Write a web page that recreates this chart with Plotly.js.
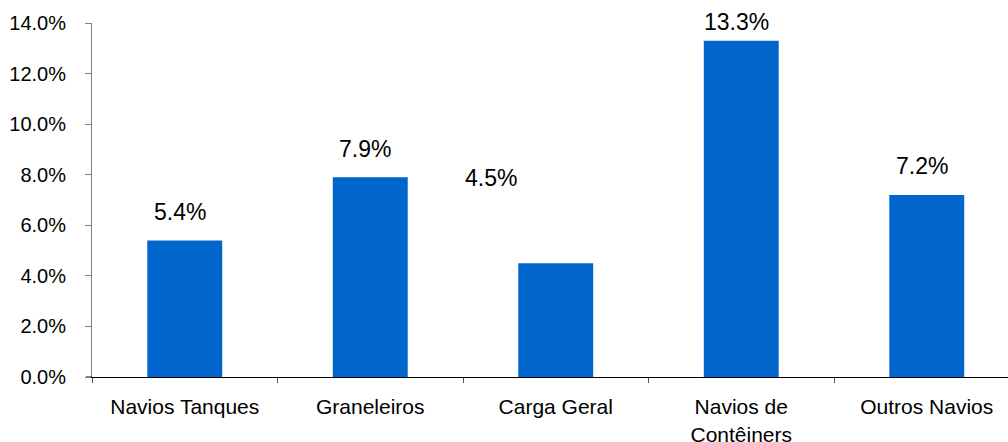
<!DOCTYPE html>
<html>
<head>
<meta charset="utf-8">
<script src="https://cdn.plot.ly/plotly-3.0.1.min.js"></script>
<style>
  html, body { margin: 0; padding: 0; background: #fff; }
  #chart { width: 1008px; height: 442px; }
</style>
</head>
<body>
<div id="chart"></div>
<script>
// Ship types and their growth rates (%)
const categories = ['Navios Tanques', 'Graneleiros', 'Carga Geral', 'Navios de<br>Contêiners', 'Outros Navios'];
const growth = [5.4, 7.9, 4.5, 13.3, 7.2];
const yTicks = [0, 2, 4, 6, 8, 10, 12, 14];

const FONT = 'Arial, "Liberation Sans", sans-serif';
const BAR_COLOR = '#0066CC';

// Per-label pixel offsets for the value labels above each bar
const labelShift = [
  { x: -5, y: 28 },
  { x: -5, y: 28 },
  { x: -65, y: 85 },
  { x: -5, y: 19 },
  { x: -5, y: 29 }
];

const trace = {
  type: 'bar',
  x: categories,
  y: growth,
  marker: { color: BAR_COLOR, line: { width: 0 } },
  hoverinfo: 'skip'
};

const annotations = categories.map((c, i) => ({
  x: c,
  y: growth[i],
  xref: 'x',
  yref: 'y',
  text: growth[i].toFixed(1) + '%',
  showarrow: false,
  xanchor: 'center',
  yanchor: 'middle',
  xshift: labelShift[i].x,
  yshift: labelShift[i].y,
  font: { family: FONT, size: 23, color: '#000' }
}));

const layout = {
  width: 1008,
  height: 442,
  margin: { l: 92, r: 0, t: 23, b: 65, pad: 0 },
  paper_bgcolor: '#fff',
  plot_bgcolor: '#fff',
  showlegend: false,
  bargap: 0.596,
  font: { family: FONT, color: '#000' },
  xaxis: {
    type: 'category',
    range: [-0.5, 4.438],
    showline: true,
    linecolor: '#000',
    linewidth: 1,
    ticks: 'outside',
    tickson: 'boundaries',
    ticklen: 5,
    tickcolor: '#555',
    showgrid: false,
    zeroline: false,
    tickfont: { family: FONT, size: 21, color: '#000' },
    ticklabelstandoff: 11,
    fixedrange: true
  },
  yaxis: {
    range: [0, 14],
    tickvals: yTicks,
    ticktext: yTicks.map(v => v.toFixed(1) + '%'),
    showline: true,
    linecolor: '#808080',
    linewidth: 1,
    ticks: 'outside',
    ticklen: 6,
    tickcolor: '#808080',
    showgrid: false,
    zeroline: false,
    tickfont: { family: FONT, size: 20, color: '#000' },
    ticklabelstandoff: 15,
    fixedrange: true
  },
  annotations: annotations,
  shapes: [{
    type: 'line',
    xref: 'paper', yref: 'y',
    x0: -6 / 916, x1: 0, y0: 0, y1: 0,
    line: { color: '#000', width: 1 }
  }]
};

Plotly.newPlot('chart', [trace], layout, { displayModeBar: false, staticPlot: true });
</script>
</body>
</html>
